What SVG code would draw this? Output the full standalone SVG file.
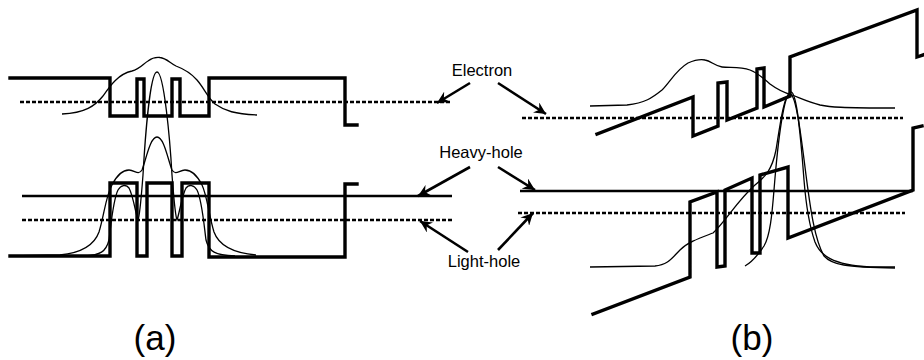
<svg xmlns="http://www.w3.org/2000/svg" width="924" height="360" viewBox="0 0 924 360">
<defs>
<style>
.band{fill:none;stroke:#000;stroke-width:3.4;stroke-linejoin:miter;stroke-linecap:square}
.lvl{fill:none;stroke:#000;stroke-width:2.4}
.dash{fill:none;stroke:#000;stroke-width:2.4;stroke-dasharray:4 2}
.wf{fill:none;stroke:#000;stroke-width:1.3}
.arr{fill:none;stroke:#000;stroke-width:2.6;marker-end:url(#ah)}
.lbl{font-family:"Liberation Sans",Arial,sans-serif;font-size:16.5px;fill:#000;text-anchor:middle}
.cap{font-family:"Liberation Sans",Arial,sans-serif;font-size:35px;fill:#000;text-anchor:middle}
</style>
<marker id="ah" markerUnits="userSpaceOnUse" markerWidth="14" markerHeight="12" refX="12" refY="6" orient="auto">
<path d="M0,0 L12,6 L0,12 L4,6 Z" fill="#000"/>
</marker>
</defs>
<rect width="924" height="360" fill="#fff"/>

<g id="panel-a">
<path class="band" d="M10,78 L110,78 L110,116 L137,116 L137,79 L144,79 L144,116 L172,116 L172,79 L180,79 L180,116 L209,116 L209,78 L345,78 L345,125 L357,125"/>
<path class="band" d="M10,256 L110,256 L110,183 L137,183 L137,256 L147,256 L147,183 L172,183 L172,256 L182,256 L182,183 L209,183 L209,257 L345,257 L345,184 L357,184"/>
<path class="dash" d="M20,102 L452,102"/>
<path class="lvl" d="M22,196 L452,196"/>
<path class="dash" d="M22,220 L452,220"/>
<path class="wf" d="M62,114 C85,113 95,106 103,96 C110,86 118,74 132,71 C140,69 143,64 148,61 C152,58 156,57 160,57.5 C166,58 170,63 176,66 C184,69 190,72 197,80 C204,88 208,98 215,104 C225,111 235,114 257,115"/>
<path class="wf" d="M10,256 L60,255 C80,253 94,246 99,232 C104,216 106,195 112,185 C117,175 123,170 129,170 C135,170 138,176 142,170 C146,160 150,137 157,137 C164,137 168,160 172,170 C176,176 179,170 185,170 C191,170 197,175 202,185 C207,195 209,216 214,232 C219,246 234,253 256,255"/>
<path class="wf" d="M85,256 C100,255 106,252 109,240 C111,225 113,200 118,190 C121,185 126,184 129,188 C133,195 136,215 138,220 C140,215 141,200 143,175 C145,140 150,72 157,72 C164,72 170,140 172,175 C174,200 175,215 177,220 C179,215 182,195 186,188 C189,184 194,185 197,190 C202,200 204,225 206,240 C209,252 215,255 235,256"/>
</g>

<g id="panel-b">
<path class="band" d="M597,134 L693,97 L693,136 L718,126 L718,83 L727,82 L727,120 L757,108 L757,69 L764,68 L764,107 L790,96 L790,57 L917,10 L917,57 L923,55"/>
<path class="band" d="M593,314 L690,277 L690,202 L717,192 L717,267 L725,266 L725,190 L752,178 L752,253 L760,253 L760,175 L788,167 L788,238 L913,190 L913,128 L922,126"/>
<path class="dash" d="M522,118 L903,118"/>
<path class="lvl" d="M520,191 L913,191"/>
<path class="dash" d="M518,213 L905,213"/>
<path class="wf" d="M590,106 L627,105 C645,103 652,98 662,90 C670,82 676,70 688,63 C695,60 700,59 705,60 C711,61 715,66 722,67 C730,68 740,66 750,70 C758,73 763,78 770,84 C778,90 785,93 792,95 C800,98 808,102 820,105 C830,107 840,108 895,108"/>
<path class="wf" d="M590,267 L655,266 C668,265 672,258 680,250 C688,242 700,238 713,233 C725,222 738,200 755,185 C765,177 772,170 776,150 C780,125 784,94 790,94 C796,94 801,135 806,175 C810,205 814,238 824,256 C832,265 845,267 895,268"/>
<path class="wf" d="M745,266 C752,262 758,255 764,246 C770,236 772,215 774,190 C778,140 784,92 791,92 C797,92 801,140 804,180 C806,205 809,225 815,242 C820,255 832,265 870,267 L895,267"/>
</g>

<g id="labels">
<text class="lbl" x="482" y="76">Electron</text>
<text class="lbl" x="481" y="158">Heavy-hole</text>
<text class="lbl" x="484" y="267">Light-hole</text>
<text class="cap" x="155" y="350">(a)</text>
<text class="cap" x="752" y="350">(b)</text>
</g>

<g id="connectors">
<line class="arr" x1="470" y1="83" x2="437" y2="103"/>
<line class="arr" x1="498" y1="83" x2="546" y2="114"/>
<line class="arr" x1="470" y1="167" x2="418" y2="196"/>
<line class="arr" x1="498" y1="167" x2="535" y2="190"/>
<line class="arr" x1="468" y1="252" x2="420" y2="221"/>
<line class="arr" x1="498" y1="250" x2="533" y2="213"/>
</g>
</svg>
